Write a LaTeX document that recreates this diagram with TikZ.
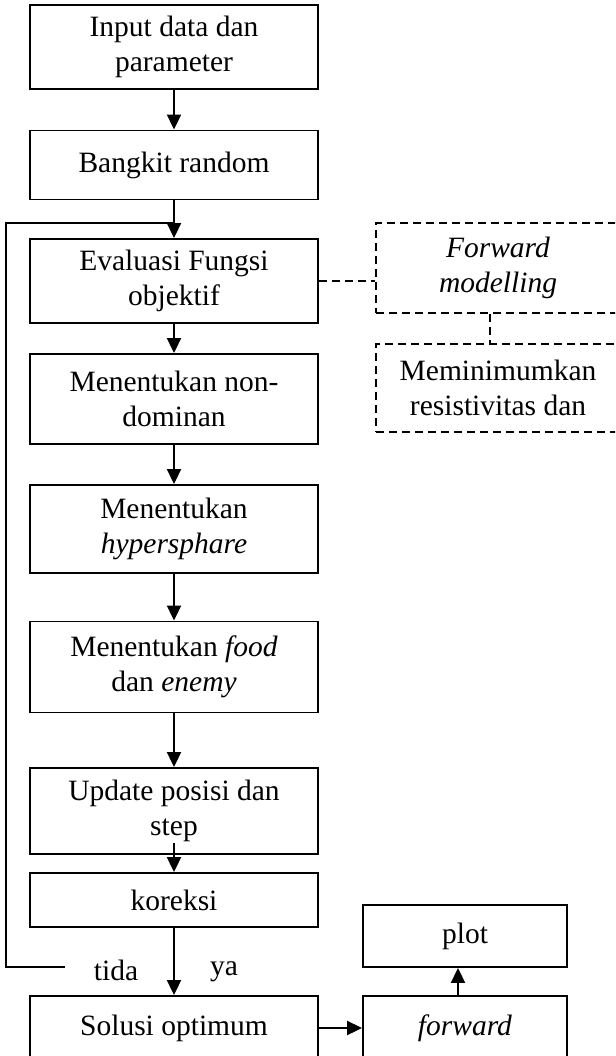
\documentclass[tikz,border=0pt]{standalone}
\usepackage{fontspec}
\setmainfont{Liberation Serif}
\usetikzlibrary{arrows.meta}

\begin{document}
\begin{tikzpicture}[x=1pt,y=-1pt,
	kotak/.style={draw,line width=1.9pt,minimum width=288pt,align=center,inner sep=0pt},
	kotakputus/.style={draw,dash pattern=on 8pt off 5pt,line width=1.4pt,minimum width=244pt,align=center,inner sep=0pt},
	panah/.style={-{Triangle[length=15pt,width=14pt]},line width=2pt},
	putus/.style={dash pattern=on 8pt off 5pt,line width=1.4pt},
	font=\fontsize{29.5}{35}\selectfont]
	% Rahmen festlegen
	\clip (0,0) rectangle (615,1056);
	% Kaesten zeichnen
	\node[kotak,minimum height=84pt] (input) at (174,47) {Input data dan\\parameter};
	\node[kotak,minimum height=69pt] (bangkit) at (174,165) {Bangkit random};
	\node[kotak,minimum height=84pt] (evaluasi) at (174,281) {Evaluasi Fungsi\\objektif};
	\node[kotak,minimum height=90pt] (nondominan) at (174,399) {Menentukan non-\\dominan};
	\node[kotak,minimum height=88pt] (hypersphare) at (174,529) {Menentukan\\\textit{hypersphare}};
	\node[kotak,minimum height=91pt] (food) at (174,667) {Menentukan \textit{food}\\dan \textit{enemy}};
	\node[kotak,minimum height=86pt] (update) at (174,811) {Update posisi dan\\step};
	\node[kotak,minimum height=54pt] (koreksi) at (174,900) {koreksi};
	\node[kotak,minimum height=64pt] (solusi) at (174,1028) {Solusi optimum};
	\node[kotak,minimum width=204pt,minimum height=62pt] (plot) at (465,936) {plot};
	\node[kotak,minimum width=204pt,minimum height=64pt] (forward) at (465,1028) {\textit{forward}};
	% gestrichelte Kaesten
	\node[kotakputus,minimum height=90pt] (modelling) at (498,268) {\textit{Forward}\\\textit{modelling}};
	\node[kotakputus,minimum height=88pt] (minimum) at (498,388) {Meminimumkan\\resistivitas dan};
	% Pfeile zeichnen
	\draw[panah] (input) -- (bangkit);
	\draw[panah] (bangkit) -- (evaluasi);
	\draw[panah] (evaluasi) -- (nondominan);
	\draw[panah] (nondominan) -- (hypersphare);
	\draw[panah] (hypersphare) -- (food);
	\draw[panah] (food) -- (update);
	\draw[panah] ([yshift=12pt]update.south) -- (koreksi);
	\draw[panah] (koreksi) -- (solusi);
	\draw[panah] (solusi) -- (forward);
	\draw[panah] ([xshift=-7pt]forward.north) -- ([xshift=-7pt]plot.south);
	% Schleife zurueck
	\coordinate (pojok) at (6,223);
	\coordinate (gabung) at (174,223);
	\coordinate (tidak) at (65,967);
	\draw[line width=1.5pt] (tidak) -| (pojok) -- (gabung);
	\node (tida) at (116,970) {tida};
	\node (ya) at (224,972) {ya};
	% gestrichelte Verbindungen
	\draw[putus] (evaluasi.east) -- (evaluasi.east -| modelling.west);
	\draw[putus] ([xshift=-8pt]modelling.south) -- ([xshift=-8pt]minimum.north);
\end{tikzpicture}
\end{document}
